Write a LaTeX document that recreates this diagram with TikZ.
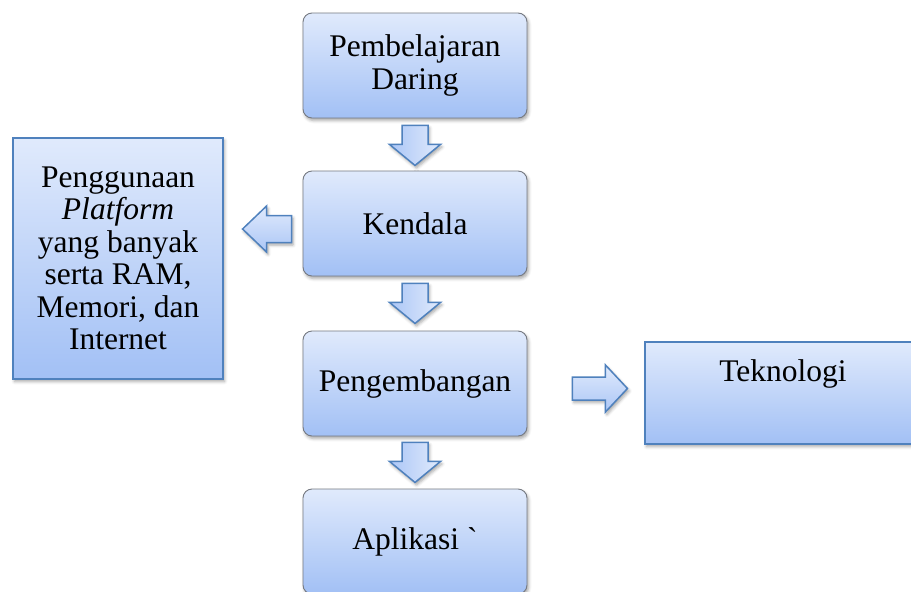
\documentclass[tikz,border=0pt]{standalone}
\usepackage{fontspec}
\setmainfont{Liberation Serif}[Ligatures=TeXOff]
\usetikzlibrary{calc,shadows.blur}

\definecolor{filltop}{RGB}{224,234,252}
\definecolor{fillbot}{RGB}{162,192,245}
\definecolor{edgeblue}{RGB}{79,129,189}
\definecolor{edgegrey}{RGB}{118,122,130}

\begin{document}
\begin{tikzpicture}[x=1pt,y=-1pt,
  every node/.style={font=\fontsize{31.5}{32.5}\selectfont, align=center, inner sep=0pt},
  softshadow/.style={blur shadow={shadow xshift=1.5pt, shadow yshift=-2.5pt,
      shadow blur radius=3pt, shadow opacity=35}},
  roundbox/.style={rectangle, rounded corners=9pt, draw=edgegrey, line width=0.9pt,
      top color=filltop, bottom color=fillbot, minimum width=224pt,
      minimum height=105pt, softshadow},
  squarebox/.style={rectangle, draw=edgeblue, line width=1.8pt,
      top color=filltop, bottom color=fillbot, softshadow},
  arrowshape/.style={draw=edgeblue, line width=1.5pt, line join=miter, softshadow},
  downarr/.pic={\path[arrowshape, left color=fillbot!85!filltop, right color=filltop]
      (-13,0) -- (13,0) -- (13,19) -- (25.5,19) -- (0,40) -- (-25.5,19)
      -- (-13,19) -- cycle;},
  rightarr/.pic={\path[arrowshape, top color=filltop, bottom color=fillbot!85!filltop]
      (0,-11.5) -- (33,-11.5) -- (33,-23.5) -- (55,0) -- (33,23.5)
      -- (33,11.5) -- (0,11.5) -- cycle;},
  leftarr/.pic={\path[arrowshape, top color=filltop, bottom color=fillbot!85!filltop]
      (0,-13.5) -- (-25,-13.5) -- (-25,-23) -- (-49,0) -- (-25,23)
      -- (-25,13.5) -- (0,13.5) -- cycle;}
]
\useasboundingbox (0,0) rectangle (911,592);
\clip (0,0) rectangle (911,592);

% main column
\node[roundbox] (daring) at (415,65.5) {Pembelajaran\\Daring};
\node[roundbox] (kendala) at (415,223.5) {Kendala};
\node[roundbox] (kembang) at (415,383.5) {Pengembangan};
\node[roundbox] (aplikasi) at (415,541.5) {Aplikasi `};

% side boxes
\node[squarebox, minimum width=210pt, minimum height=241pt] (platform) at (118,258.5)
  {Penggunaan\\\textit{Platform}\\yang banyak\\serta RAM,\\Memori, dan\\Internet};
\node[squarebox, minimum width=276pt, minimum height=102pt] (tekno) at (783,393) {};
\node[anchor=base] (teknotext) at ($(tekno.north)+(0,40)$) {Teknologi};

% block arrows
\pic at ($(daring.south)+(0,7)$) {downarr};
\pic at ($(kendala.south)+(0,7)$) {downarr};
\pic at ($(kembang.south)+(0,6)$) {downarr};
\pic at ($(kendala.west)+(-11,5.5)$) {leftarr};
\pic at ($(kembang.east)+(45,5)$) {rightarr};
\end{tikzpicture}
\end{document}
